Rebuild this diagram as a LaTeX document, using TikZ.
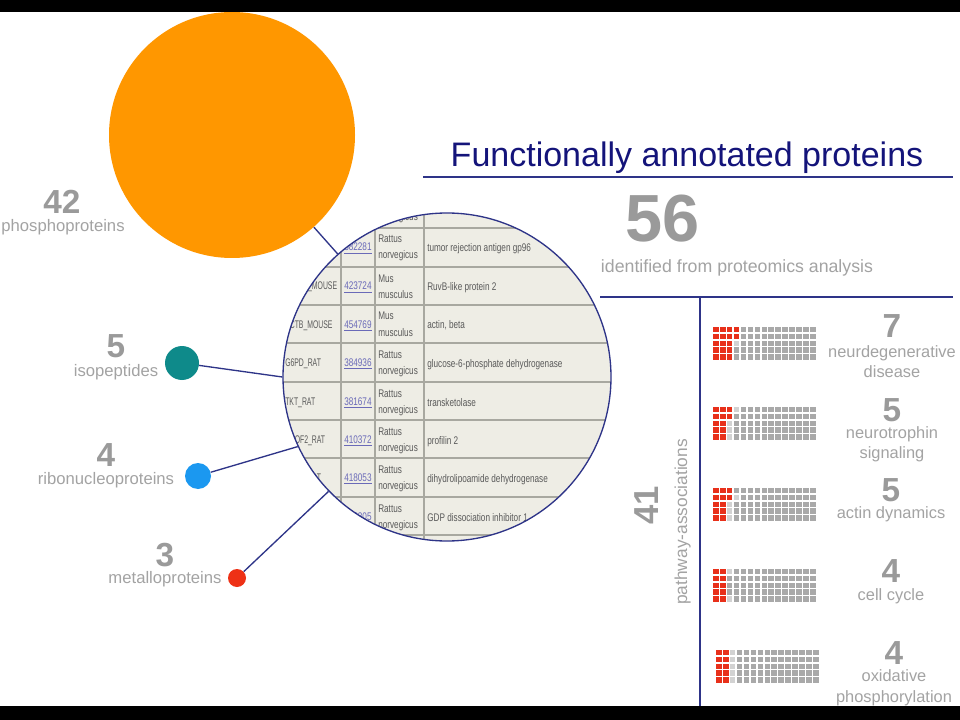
\documentclass[tikz,border=0pt]{standalone}
\usepackage{fontspec}
\setmainfont{Liberation Sans}
\usepackage{graphicx}
\definecolor{orng}{HTML}{FF9700}
\definecolor{tealc}{HTML}{0E8A8A}
\definecolor{bluec}{HTML}{1B98F0}
\definecolor{redc}{HTML}{EE3116}
\definecolor{navy}{HTML}{14147A}
\definecolor{linec}{HTML}{2E3488}
\definecolor{numgray}{HTML}{9A9A9A}
\definecolor{lblgray}{HTML}{A3A3A3}
\definecolor{tblbg}{HTML}{EEEDE5}
\definecolor{tblline}{HTML}{A8A8A0}
\definecolor{tbltext}{HTML}{5A5A5A}
\definecolor{linkc}{HTML}{6A6AB8}
\definecolor{wred}{HTML}{E8301A}
\definecolor{wgray}{HTML}{A9A9A9}
\definecolor{wlight}{HTML}{D2D2D2}

\newcommand\tbx[1]{\scalebox{0.74}[1]{#1}}
\newcommand\tbn[1]{\scalebox{0.62}[1]{#1}}
% #1 name prefix, #2 top y, #3 entry, #4 id, #5 org1, #6 org2, #7 description
\newcommand\trow[7]{%
  \node[tb] (#1n) at (285,{#2+23}) {\tbn{#3}};
  \node[tbid] (#1i) at (344,{#2+23}) {\tbx{\underline{#4}}};
  \node[tb] (#1a) at (378,{#2+15}) {\tbx{#5}};
  \node[tb] (#1b) at (378,{#2+31}) {\tbx{#6}};
  \node[tb] (#1d) at (427,{#2+24}) {\tbx{#7}};
}
% #1 x, #2 y, #3 list row/red/light
\newcommand\waffle[3]{%
  \foreach \r/\n/\l in {#3} {
    \foreach \c in {0,...,14} {
      \ifnum\c<\n \def\wc{wred}\else\ifnum\c<\l \def\wc{wlight}\else\def\wc{wgray}\fi\fi
      \fill[\wc] ({#1+\c*6.93},{#2+\r*6.8}) rectangle ++(5.6,5.4);
    }
  }
}

\begin{document}
\begin{tikzpicture}[x=0.75pt,y=-0.75pt,
  num/.style={anchor=base,inner sep=0pt,text=numgray,font=\fontsize{25}{25}\selectfont\bfseries},
  lbl/.style={anchor=base,inner sep=0pt,text=lblgray,font=\fontsize{12.5}{14}\selectfont},
  rlbl/.style={lbl,font=\fontsize{12.3}{14}\selectfont},
  conn/.style={draw=linec,line width=1pt},
  blob/.style={circle,inner sep=0pt,draw=none},
  tb/.style={anchor=base west,inner sep=0pt,text=tbltext,font=\fontsize{8.3}{9}\selectfont},
  tbid/.style={tb,text=linkc},
  sepline/.style={draw=linec,line width=1pt},
]
\useasboundingbox (0,0) rectangle (960,720);
\fill[white] (0,0) rectangle (960,720);

% big orange circle
\node[blob,fill=orng,minimum size=184.5pt] (orange) at (232,135) {};

% magnified table
\begin{scope}
  \clip (447,377) circle (164);
  \fill[tblbg] (270,180) rectangle (620,560);
  \foreach \yy in {228,267,305,343,382,420,458,497,535}
    \draw[tblline,line width=1.2pt] (270,\yy) -- (620,\yy);
  \foreach \xx in {341,375,424}
    \draw[tblline,line width=1.2pt] (\xx,180) -- (\xx,560);
  \node[tb] (r0a) at (378,205) {\tbx{Rattus}};
  \node[tb] (r0b) at (378,221) {\tbx{norvegicus}};
  \trow{r1}{228}{ENPL\_RAT}{382281}{Rattus}{norvegicus}{tumor rejection antigen gp96}
  \trow{r2}{267}{RUVB2\_MOUSE}{423724}{Mus}{musculus}{RuvB-like protein 2}
  \trow{r3}{305}{ACTB\_MOUSE}{454769}{Mus}{musculus}{actin, beta}
  \trow{r4}{343}{G6PD\_RAT}{384936}{Rattus}{norvegicus}{glucose-6-phosphate dehydrogenase}
  \trow{r5}{382}{TKT\_RAT}{381674}{Rattus}{norvegicus}{transketolase}
  \trow{r6}{420}{PROF2\_RAT}{410372}{Rattus}{norvegicus}{profilin 2}
  \trow{r7}{458}{DLDH\_RAT}{418053}{Rattus}{norvegicus}{dihydrolipoamide dehydrogenase}
  \trow{r8}{497}{GDIA\_RAT}{363305}{Rattus}{norvegicus}{GDP dissociation inhibitor 1}
\end{scope}
\node[circle,draw=linec,line width=1pt,minimum size=246pt,inner sep=0pt] (mag) at (447,377) {};

% small circles
\node[blob,fill=tealc,minimum size=25.5pt] (teal) at (182,363) {};
\node[blob,fill=bluec,minimum size=19.5pt] (blue) at (198,476) {};
\node[blob,fill=redc,minimum size=13.5pt] (red) at (237,578) {};

% connectors
\draw[conn] (orange) -- (mag);
\draw[conn] (teal) -- (mag.180);
\draw[conn] (blue) -- (mag.205);
\draw[conn] (red) -- (mag.224);

% left labels
\node[num] (n42) at (62,214) {42};
\node[lbl] (l42) at (63,232) {phosphoproteins};
\node[num] (n5a) at (116,357) {5};
\node[lbl] (l5a) at (116,376) {isopeptides};
\node[num] (n4a) at (106,466) {4};
\node[lbl] (l4a) at (106,484) {ribonucleoproteins};
\node[num] (n3) at (165,566) {3};
\node[lbl] (l3) at (165,583) {metalloproteins};

% title and summary
\node[anchor=base,inner sep=0pt,text=navy,font=\fontsize{25.5}{26}\selectfont] (title) at (687,167) {Functionally annotated proteins};
\coordinate (t1) at (423,177);
\coordinate (t2) at (953,177);
\draw[sepline] (t1) -- (t2);
\node[anchor=base,inner sep=0pt,text=numgray,font=\fontsize{50}{50}\selectfont\bfseries] (n56) at (663,242) {56};
\node[anchor=base,inner sep=0pt,text=lblgray,font=\fontsize{13.3}{15}\selectfont] (l56) at (737,273) {identified from proteomics analysis};
\coordinate (h1) at (600,297);
\coordinate (h2) at (953,297);
\coordinate (v1) at (700,297);
\coordinate (v2) at (700,706);
\draw[sepline] (h1) -- (h2);
\draw[sepline] (v1) -- (v2);

% pathway associations
\node[num,rotate=90,font=\fontsize{26}{26}\selectfont\bfseries] (n41) at (658,505) {41};
\node[lbl,rotate=90,font=\fontsize{13}{15}\selectfont] (l41) at (687,522) {pathway-associations};

% waffles
\waffle{713}{327}{0/4/4,1/4/4,2/3/4,3/3/3,4/3/3}
\waffle{713}{407}{0/3/4,1/3/3,2/2/3,3/2/3,4/2/3}
\waffle{713}{488}{0/3/3,1/3/4,2/2/3,3/2/3,4/2/3}
\waffle{713}{569}{0/2/3,1/2/2,2/2/2,3/2/2,4/2/3}
\waffle{716}{650}{0/2/3,1/2/3,2/2/3,3/2/3,4/2/3}

\node[num] (n7) at (892,337) {7};
\node[rlbl] (l7a) at (892,357) {neurdegenerative};
\node[rlbl] (l7b) at (892,377) {disease};
\node[num] (n5b) at (892,421) {5};
\node[rlbl] (l5b) at (892,438) {neurotrophin};
\node[rlbl] (l5c) at (892,458) {signaling};
\node[num] (n5c) at (891,501) {5};
\node[rlbl] (l5d) at (891,518) {actin dynamics};
\node[num] (n4b) at (891,582) {4};
\node[rlbl] (l4b) at (891,600) {cell cycle};
\node[num] (n4c) at (894,664) {4};
\node[rlbl] (l4c) at (894,681) {oxidative};
\node[rlbl] (l4d) at (894,702) {phosphorylation};

% black bars
\fill[black] (0,0) rectangle (960,12);
\fill[black] (0,706) rectangle (960,720);
\end{tikzpicture}
\end{document}
